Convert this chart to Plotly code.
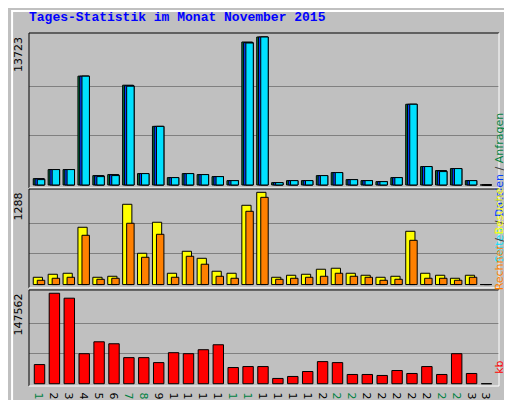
import plotly.graph_objects as go

days = list(range(1, 32))
weekend = [1, 7, 8, 14, 15, 21, 22, 28, 29]

# Anfragen / Dateien / Seiten
hits = [590, 1428, 1428, 10091, 869, 963, 9253, 1056, 5434, 683, 1056, 963, 776, 404, 13258,
        13723, 217, 404, 404, 869, 1149, 497, 404, 310, 683, 7483, 1708, 1335, 1521, 404, 0]
files = [560, 1428, 1428, 10091, 840, 930, 9200, 1056, 5434, 683, 1056, 963, 776, 404, 13200,
         13723, 217, 404, 404, 869, 1149, 497, 404, 310, 683, 7483, 1708, 1300, 1521, 404, 0]
pages = [497, 1428, 1428, 10091, 776, 870, 9160, 1056, 5434, 683, 1056, 963, 776, 404, 13165,
         13723, 217, 404, 404, 869, 1149, 497, 404, 310, 683, 7483, 1708, 1242, 1521, 404, 0]
# Besuche / Rechner
visits = [102, 144, 158, 800, 102, 116, 1121, 437, 870, 158, 465, 367, 186, 158, 1107,
          1288, 102, 130, 144, 214, 228, 158, 130, 102, 116, 744, 158, 130, 88, 130, 0]
sites = [60, 88, 102, 688, 74, 88, 856, 381, 702, 102, 395, 284, 116, 88, 1023,
         1218, 74, 88, 102, 116, 158, 116, 102, 60, 74, 618, 88, 88, 60, 102, 0]
# kb
kbytes = [31239, 147562, 139497, 49013, 68402, 65171, 42549, 42549, 34470, 50628, 49013, 55476,
          63555, 26391, 28007, 28007, 8618, 11849, 19928, 36086, 34470, 15081, 15081, 13465,
          21544, 16697, 28007, 15081, 49013, 16697, 0]

max_hits, max_visits, max_kb = 13723, 1288, 147562

fig = go.Figure()
line = dict(color='black', width=1)

def bars(y, color, off, w, axis):
    fig.add_trace(go.Bar(x=days, y=y, offset=off, width=w, marker=dict(color=color, line=line),
                         xaxis='x', yaxis=axis, showlegend=False, hoverinfo='skip'))

bars(hits, '#008040', -0.52, 0.72, 'y')
bars(files, '#0040FF', -0.40, 0.65, 'y')
bars(pages, '#00E0FF', -0.25, 0.50, 'y')
bars(visits, '#FFFF00', -0.52, 0.62, 'y2')
bars(sites, '#FF8000', -0.25, 0.50, 'y2')
bars(kbytes, '#FF0000', -0.45, 0.70, 'y3')

ticktext = ['<span style="color:#008040">%d</span>' % d if d in weekend else str(d) for d in days]

def yax(domain, rng, mx):
    return dict(domain=domain, range=rng, tickvals=[mx / 3, 2 * mx / 3], showticklabels=False,
                showgrid=True, gridcolor='#808080', zeroline=False, fixedrange=True,
                automargin=False, anchor='x')

fig.update_layout(
    width=512, height=400, barmode='overlay',
    margin=dict(l=21, r=21, t=25, b=22, autoexpand=False),
    paper_bgcolor='#C0C0C0', plot_bgcolor='#C0C0C0',
    font=dict(family='DejaVu Sans', size=11, color='black'),
    xaxis=dict(range=[0.195, 31.74], tickvals=days, ticktext=ticktext, showgrid=False,
               zeroline=False, ticks='', tickfont=dict(size=11), anchor='y3', automargin=False),
    yaxis=yax([0.561, 1], [-278, 14094], max_hits),
    yaxis2=yax([0.278, 0.558], [-46, 1334], max_visits),
    yaxis3=yax([0, 0.272], [-3712, 152888], max_kb),
)

fig.add_annotation(text='<b>Tages-Statistik im Monat November 2015</b>', xref='paper', yref='paper',
                   x=-0.005, y=1.045, xanchor='left', yanchor='middle', showarrow=False,
                   font=dict(family='Liberation Mono', size=13, color='#0000FF'))
for txt, yy in [(str(max_hits), 1.0), (str(max_visits), 0.558), (str(max_kb), 0.272)]:
    fig.add_annotation(text=txt, xref='paper', yref='paper', x=-0.022, y=yy - 0.005, textangle=-90,
                       xanchor='center', yanchor='top', showarrow=False, font=dict(size=11))
fig.add_annotation(text='<span style="color:#00E0FF">Seiten</span> / <span style="color:#0040FF">Dateien</span>'
                        ' / <span style="color:#008040">Anfragen</span>',
                   xref='paper', yref='paper', x=1.02, y=0.78, textangle=-90, showarrow=False,
                   font=dict(size=11, color='#404040'))
fig.add_annotation(text='<span style="color:#FF8000">Rechner</span> / <span style="color:#FFFF00">Besuche</span>',
                   xref='paper', yref='paper', x=1.02, y=0.418, textangle=-90, showarrow=False,
                   font=dict(size=11, color='#404040'))
fig.add_annotation(text='kb', xref='paper', yref='paper', x=1.02, y=0.03, textangle=-90,
                   showarrow=False, font=dict(size=11, color='#FF0000'))

# frames
for y0, y1 in [(0.561, 1), (0.278, 0.558), (0, 0.272)]:
    fig.add_shape(type='line', xref='paper', yref='paper', x0=0, x1=0, y0=y0, y1=y1, line=dict(color='black', width=1))
    fig.add_shape(type='line', xref='paper', yref='paper', x0=0, x1=1, y0=y1, y1=y1, line=dict(color='black', width=1))
    fig.add_shape(type='line', xref='paper', yref='paper', x0=1, x1=1, y0=y0, y1=y1, line=dict(color='white', width=1))
    fig.add_shape(type='line', xref='paper', yref='paper', x0=0, x1=1, y0=y0, y1=y0, line=dict(color='white', width=1))
fig.add_shape(type='rect', xref='paper', yref='paper', x0=-0.036, x1=1.036, y0=-0.054, y1=1.062,
              line=dict(color='white', width=2), layer='below')

fig.write_html("out.html")
